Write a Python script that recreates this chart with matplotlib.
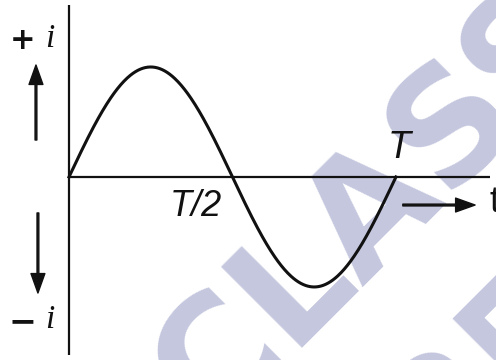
import numpy as np
import matplotlib.pyplot as plt

# one full cycle of the alternating current, period T = 1
T = 1.0
amplitude = 1.0
t = np.linspace(0, T, 400)
current = amplitude * np.sin(2 * np.pi * t / T)

axis_top = 1.564
axis_bottom = -1.618
axis_right = 1.287

tick_labels = ["T/2", "T"]
tick_positions = [T / 2, T]

ink = "#111111"
wm_color = "#c4c7de"

fig = plt.figure(figsize=(4.96, 3.6), dpi=100)
fig.patch.set_facecolor("white")

# watermark behind the drawing
fig.text(404 / 496, 1 - 238 / 360, "CLASS", rotation=45, rotation_mode="anchor",
         ha="center", va="baseline", fontsize=112, fontweight="bold",
         family="DejaVu Sans", color=wm_color, zorder=0)
fig.text(596 / 496, 1 - 326 / 360, "25", rotation=45, rotation_mode="anchor",
         ha="right", va="baseline", fontsize=112, fontweight="bold",
         family="DejaVu Sans", color=wm_color, zorder=0)

ax = fig.add_axes([0, 0, 1, 1], zorder=2)
ax.set_xlim(-0.211, 1.306)
ax.set_ylim(-1.664, 1.609)
ax.patch.set_alpha(0)
ax.axis("off")

# axes of the graph
ax.plot([0, 0], [axis_bottom, axis_top], color=ink, lw=1.6, solid_capstyle="butt")
ax.plot([0, axis_right], [0, 0], color=ink, lw=1.6, solid_capstyle="butt")

# current waveform
ax.plot(t, current, color=ink, lw=2.2)

# T/2 and T labels
ax.annotate(tick_labels[0], xy=(tick_positions[0], 0), xytext=(-37, -30),
            textcoords="offset pixels", ha="center", va="center",
            fontsize=26, style="italic", family="Liberation Sans", color=ink)
ax.annotate(tick_labels[1], xy=(tick_positions[1], 0), xytext=(3, 29),
            textcoords="offset pixels", ha="center", va="center",
            fontsize=27, style="italic", family="Liberation Sans", color=ink)

# direction arrows
arrow = dict(facecolor=ink, edgecolor=ink, width=1.3, headwidth=10,
             headlength=14, shrink=0)
ax.annotate("", xy=(-0.101, 1.018), xytext=(-0.101, 0.336), arrowprops=arrow)
ax.annotate("", xy=(-0.095, -1.055), xytext=(-0.095, -0.327), arrowprops=arrow)
ax.annotate("", xy=(1.242, -0.255), xytext=(1.021, -0.255), arrowprops=arrow)

# +i, -i and t labels
ax.text(-0.141, 1.245, "+", ha="center", va="center", fontsize=22,
        fontweight="bold", color=ink)
ax.text(-0.058, 1.255, "i", ha="center", va="center", fontsize=24,
        style="italic", family="Liberation Serif", color=ink)
ax.text(-0.141, -1.318, "\u2212", ha="center", va="center", fontsize=24,
        fontweight="bold", color=ink)
ax.text(-0.058, -1.30, "i", ha="center", va="center", fontsize=24,
        style="italic", family="Liberation Serif", color=ink)
ax.text(1.30, -0.236, "t", ha="center", va="center", fontsize=26,
        family="Liberation Sans", color=ink)

fig.savefig("out.png", dpi=100)
